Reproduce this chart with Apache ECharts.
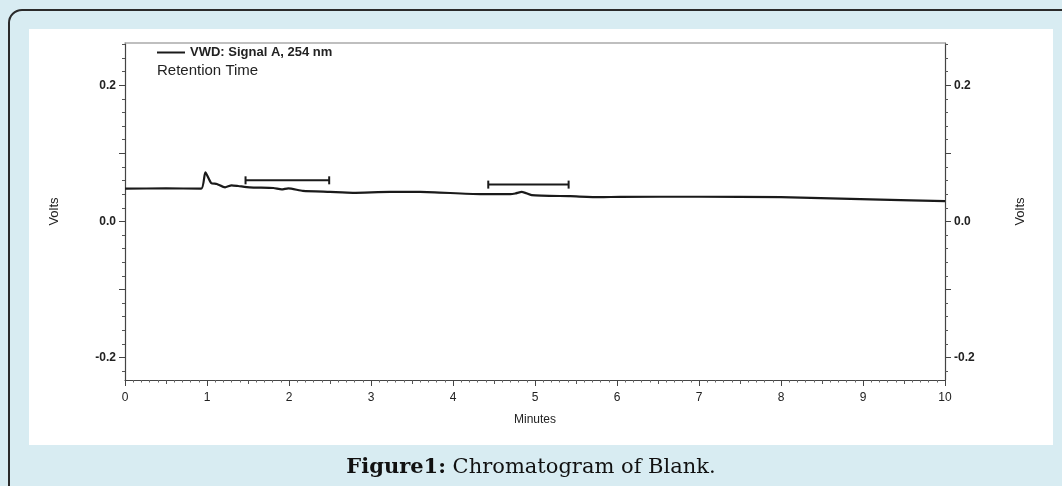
<!DOCTYPE html>
<html>
<head>
<meta charset="utf-8">
<script src="https://cdn.jsdelivr.net/npm/echarts@6/dist/echarts.min.js"></script>
<style>
  html, body { margin: 0; padding: 0; background: #d8ecf2; }
  #main { width: 1062px; height: 486px; }
</style>
</head>
<body>
<div id="main"></div>
<script>
// trace (minutes, volts)
var times = [0, 0.5, 0.93, 0.98, 1.05, 1.12, 1.22, 1.3, 1.38, 1.52, 1.81, 1.91, 1.99, 2.17, 2.5, 2.78, 3.23, 3.6, 4.33, 4.7, 4.76, 4.84, 4.96, 5.43, 5.79, 6.04, 7, 8, 9.21, 10];
var volts = [0.048, 0.0485, 0.048, 0.072, 0.0565, 0.055, 0.050, 0.053, 0.052, 0.050, 0.049, 0.047, 0.0486, 0.0448, 0.0433, 0.042, 0.0433, 0.0433, 0.040, 0.040, 0.041, 0.0433, 0.0385, 0.037, 0.0355, 0.036, 0.0362, 0.0355, 0.032, 0.0297];
// retention time windows
var rtStart = [1.47, 4.43];
var rtEnd = [2.49, 5.41];
var rtLevel = [0.0603, 0.054];
// tick labels
var xLabels = [0, 1, 2, 3, 4, 5, 6, 7, 8, 9, 10];
var yLabels = [-0.2, 0, 0.2];

var yMin = -0.233, yMax = 0.262;

var trace = times.map(function (t, i) { return [t, volts[i]]; });
var windows = rtStart.map(function (s, i) { return [s, rtEnd[i], rtLevel[i]]; });

// tick positions
var xMinor = [], xMid = [];
for (var i = 0; i <= 100; i++) {
    if (i % 10 === 0) continue;
    if (i % 5 === 0) xMid.push(i / 10); else xMinor.push(i / 10);
}
var yMinor = [], yMid = [];
for (var k = -11; k <= 13; k++) {
    var v = +(k * 0.02).toFixed(2);
    if (k % 5 === 0) yMid.push(v); else yMinor.push(v);
}

var labelFont = { fontFamily: 'Liberation Sans', fontSize: 12, color: '#222' };

function yAxisMain(pos) {
    return {
        type: 'value', position: pos, min: yMin, max: yMax,
        name: 'Volts', nameLocation: 'middle', nameGap: pos === 'left' ? 64 : 69,
        nameTextStyle: { fontFamily: 'Liberation Sans', fontSize: 13, color: '#222' },
        axisLine: { show: true, onZero: false, lineStyle: { color: '#444', width: 1.2 } },
        axisTick: { show: true, length: 6, customValues: yMid, lineStyle: { color: '#444' } },
        axisLabel: Object.assign({ customValues: yLabels, margin: 9, fontWeight: 'bold',
            formatter: function (v) { return v.toFixed(1); } }, labelFont),
        splitLine: { show: false }
    };
}
function yAxisMinor(pos) {
    return {
        type: 'value', position: pos, min: yMin, max: yMax,
        axisLine: { show: false, onZero: false },
        axisTick: { show: true, length: 3, customValues: yMinor, lineStyle: { color: '#555' } },
        axisLabel: { show: false },
        splitLine: { show: false }
    };
}
function xAxisTicks(vals, len, color) {
    return {
        type: 'value', position: 'bottom', min: 0, max: 10,
        axisLine: { show: false, onZero: false },
        axisTick: { show: true, length: len, customValues: vals, lineStyle: { color: color } },
        axisLabel: { show: false }, splitLine: { show: false }
    };
}

var myChart = echarts.init(document.getElementById('main'));
var option = {
    animation: false,
    backgroundColor: '#d8ecf2',
    graphic: [
        { type: 'rect', z: -10, shape: { x: 9, y: 10, width: 1070, height: 500, r: 13 },
          style: { fill: '#d8ecf2', stroke: '#2a2a2a', lineWidth: 2 } },
        { type: 'rect', z: -9, shape: { x: 29, y: 29, width: 1024, height: 416 },
          style: { fill: '#ffffff' } },
        { type: 'text', left: 157, top: 63,
          style: { text: 'Retention Time', font: '15px "Liberation Sans"', fill: '#222' } },
        { type: 'text', left: 'center', top: 457,
          style: { text: '{b|Figure1:} Chromatogram of Blank.',
                   rich: { b: { fontWeight: 'bold', fontFamily: 'DejaVu Serif', fontSize: 21, fill: '#111' } },
                   fontFamily: 'DejaVu Serif', fontSize: 21, fill: '#111' } }
    ],
    legend: {
        data: [{ name: 'VWD: Signal A, 254 nm', icon: 'rect' }],
        left: 157, top: 46, padding: 0,
        itemWidth: 28, itemHeight: 2, itemGap: 5,
        itemStyle: { color: '#1a1a1a' },
        textStyle: { fontFamily: 'Liberation Sans', fontSize: 13, fontWeight: 'bold', color: '#222' }
    },
    grid: { left: 125, right: 117, top: 43, bottom: 106 },
    xAxis: [
        {
            type: 'value', position: 'bottom', min: 0, max: 10,
            name: 'Minutes', nameLocation: 'middle', nameGap: 34,
            nameTextStyle: { fontFamily: 'Liberation Sans', fontSize: 12, color: '#222' },
            axisLine: { show: true, onZero: false, lineStyle: { color: '#444', width: 1.2 } },
            axisTick: { show: true, length: 6, customValues: xLabels, lineStyle: { color: '#444' } },
            axisLabel: Object.assign({ customValues: xLabels, margin: 12 }, labelFont),
            splitLine: { show: false }
        },
        xAxisTicks(xMid, 4, '#555'),
        xAxisTicks(xMinor, 2.5, '#666'),
        {
            type: 'value', position: 'top', min: 0, max: 10,
            axisLine: { show: true, onZero: false, lineStyle: { color: '#aaa', width: 1.5 } },
            axisTick: { show: false }, axisLabel: { show: false }, splitLine: { show: false }
        }
    ],
    yAxis: [yAxisMain('left'), yAxisMinor('left'), yAxisMain('right'), yAxisMinor('right')],
    series: [
        {
            name: 'VWD: Signal A, 254 nm',
            type: 'line',
            data: trace,
            symbol: 'none',
            smooth: 0.2,
            lineStyle: { color: '#1a1a1a', width: 2.2 },
            itemStyle: { color: '#1a1a1a' }
        },
        {
            name: 'Retention Time',
            type: 'custom',
            data: windows,
            encode: { x: [0, 1], y: 2 },
            renderItem: function (params, api) {
                var a = api.coord([api.value(0), api.value(2)]);
                var b = api.coord([api.value(1), api.value(2)]);
                var h = 4;
                var st = { stroke: '#1a1a1a', lineWidth: 2 };
                return {
                    type: 'group',
                    children: [
                        { type: 'line', shape: { x1: a[0], y1: a[1], x2: b[0], y2: b[1] }, style: st },
                        { type: 'line', shape: { x1: a[0], y1: a[1] - h, x2: a[0], y2: a[1] + h }, style: st },
                        { type: 'line', shape: { x1: b[0], y1: b[1] - h, x2: b[0], y2: b[1] + h }, style: st }
                    ]
                };
            }
        }
    ]
};
myChart.setOption(option);
</script>
</body>
</html>
